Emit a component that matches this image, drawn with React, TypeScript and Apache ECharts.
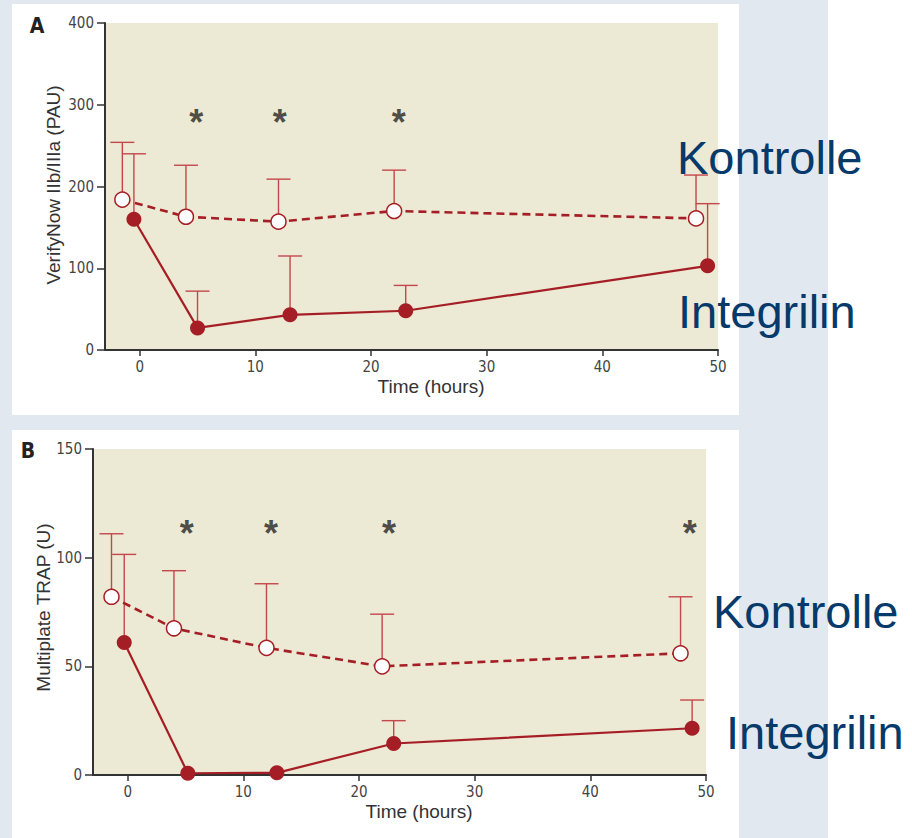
import React, { useEffect, useRef } from 'react';
import * as echarts from 'echarts';

// ---- data ----
const hoursTicks = [0, 10, 20, 30, 40, 50];
const ticksA = [0, 100, 200, 300, 400];
const ticksB = [0, 50, 100, 150];

const aKontrolleTime = [-1.5, 4, 12, 22, 48.1];
const aKontrolleMean = [184, 163, 157, 170, 161];
const aKontrolleSD = [70, 63, 52, 50, 53];
const aIntegrilinTime = [-0.5, 5, 13, 23, 49.1];
const aIntegrilinMean = [160, 27, 43, 48, 103];
const aIntegrilinSD = [80, 45, 72, 31, 76];
const aStarTime = [4.9, 12.1, 22.4];
const aStarLevel = 286;

const bKontrolleTime = [-1.4, 4, 12, 22, 47.8];
const bKontrolleMean = [82, 67.5, 58.5, 50, 56];
const bKontrolleSD = [29, 26.5, 29.5, 24, 26];
const bIntegrilinTime = [-0.3, 5.2, 12.9, 23, 48.8];
const bIntegrilinMean = [61, 0.8, 1, 14.5, 21.5];
const bIntegrilinSD = [40.5, 0, 0, 10.5, 13];
const bStarTime = [5.1, 12.4, 22.6, 48.6];
const bStarLevel = 114;

const groupNames = ['Kontrolle', 'Integrilin'];

// ---- styles ----
const RED = '#a61e25';
const ERR = '#c4474c';
const AXIS = '#333333';
const NAVY = '#063a6b';
const SANS = "'Liberation Sans', Arial, sans-serif";
const NARROW = "'Liberation Sans Narrow', 'DejaVu Sans Condensed', sans-serif";

const zip = (xs: number[], ys: number[]) => xs.map((x, i) => [x, ys[i]]);
const zip3 = (xs: number[], ys: number[], es: number[]) => xs.map((x, i) => [x, ys[i], es[i]]);

function errorSeries(idx: number, data: number[][]) {
  return {
    type: 'custom',
    xAxisIndex: idx,
    yAxisIndex: idx,
    z: 1,
    silent: true,
    data,
    encode: { x: 0, y: 1 },
    renderItem: (params: any, api: any) => {
      const x = api.value(0);
      const y = api.value(1);
      const e = api.value(2);
      if (!e) return { type: 'group', children: [] };
      const p0 = api.coord([x, y]);
      const p1 = api.coord([x, y + e]);
      const half = 12;
      const style = { stroke: ERR, lineWidth: 1.4 };
      return {
        type: 'group',
        children: [
          { type: 'line', shape: { x1: p0[0], y1: p0[1], x2: p1[0], y2: p1[1] }, style },
          { type: 'line', shape: { x1: p1[0] - half, y1: p1[1], x2: p1[0] + half, y2: p1[1] }, style },
        ],
      };
    },
  };
}

function kontrolleSeries(idx: number, data: number[][]) {
  return {
    name: groupNames[0],
    type: 'line',
    xAxisIndex: idx,
    yAxisIndex: idx,
    z: 3,
    data,
    symbol: 'circle',
    symbolSize: 15,
    itemStyle: { color: '#ffffff', borderColor: RED, borderWidth: 1.5 },
    lineStyle: { color: RED, width: 2.6, type: [8, 5] },
  };
}

function integrilinSeries(idx: number, data: number[][]) {
  return {
    name: groupNames[1],
    type: 'line',
    xAxisIndex: idx,
    yAxisIndex: idx,
    z: 3,
    data,
    symbol: 'circle',
    symbolSize: 15,
    itemStyle: { color: RED },
    lineStyle: { color: RED, width: 2.2 },
  };
}

function starSeries(idx: number, xs: number[], level: number) {
  return {
    type: 'scatter',
    xAxisIndex: idx,
    yAxisIndex: idx,
    z: 4,
    silent: true,
    data: xs.map((x) => [x, level]),
    symbolSize: 1,
    itemStyle: { color: 'rgba(0,0,0,0)' },
    label: {
      show: true,
      position: 'inside',
      formatter: '*',
      fontSize: 36,
      fontWeight: 'bold',
      fontFamily: SANS,
      color: '#222222',
      offset: [0, 6],
    },
  };
}

function xAxisOf(idx: number) {
  return {
    type: 'value',
    gridIndex: idx,
    min: -3,
    max: 50,
    name: 'Time (hours)',
    nameLocation: 'middle',
    nameGap: 27,
    nameMoveOverlap: false,
    nameTextStyle: { fontSize: 19, color: AXIS, fontFamily: SANS, padding: [0, 0, 0, 39] },
    axisLine: { show: true, onZero: false, lineStyle: { color: AXIS, width: 2 } },
    axisTick: { show: true, length: 6, lineStyle: { color: AXIS, width: 1.5 }, customValues: hoursTicks },
    axisLabel: { color: '#444444', fontSize: 15, fontFamily: NARROW, margin: 9, customValues: hoursTicks },
    splitLine: { show: false },
  };
}

function yAxisOf(idx: number, name: string, max: number, interval: number, ticks: number[], gap: number, shift: number) {
  return {
    type: 'value',
    gridIndex: idx,
    min: 0,
    max,
    interval,
    name,
    nameLocation: 'middle',
    nameRotate: 90,
    nameGap: gap,
    nameMoveOverlap: false,
    nameTextStyle: { fontSize: 19, color: AXIS, fontFamily: SANS, padding: [0, 0, 0, shift] },
    axisLine: { show: true, onZero: false, lineStyle: { color: AXIS, width: 2 } },
    axisTick: { show: true, length: 8, lineStyle: { color: AXIS, width: 1.5 }, customValues: ticks },
    axisLabel: { color: '#444444', fontSize: 15, fontFamily: NARROW, margin: 11, customValues: ticks },
    splitLine: { show: false },
  };
}

export default function App() {
  const ref = useRef<HTMLDivElement>(null);
  useEffect(() => {
    if (!ref.current) return;
    const chart = echarts.init(ref.current, null, { renderer: 'svg' });
    const plotBg = '#ece9d4';
    chart.setOption({
      animation: false,
      backgroundColor: '#e2e8f0',
      grid: [
        { left: 105, top: 23, right: 194, height: 327, show: true, backgroundColor: plotBg, borderWidth: 0, containLabel: false },
        { left: 93, top: 449, right: 206, height: 326, show: true, backgroundColor: plotBg, borderWidth: 0, containLabel: false },
      ],
      xAxis: [xAxisOf(0), xAxisOf(1)],
      yAxis: [
        yAxisOf(0, 'VerifyNow IIb/IIIa (PAU)', 400, 100, ticksA, 42, 3),
        yAxisOf(1, 'Multiplate TRAP (U)', 150, 50, ticksB, 40, 9),
      ],
      graphic: [
        { type: 'rect', z: -10, silent: true, shape: { x: 828, y: 0, width: 84, height: 838 }, style: { fill: '#ffffff' } },
        { type: 'rect', z: -10, silent: true, shape: { x: 12, y: 4, width: 727, height: 411 }, style: { fill: '#ffffff' } },
        { type: 'rect', z: -10, silent: true, shape: { x: 12, y: 430, width: 727, height: 408 }, style: { fill: '#ffffff' } },
        { type: 'text', z: 50, x: 37, y: 26, style: { text: 'A', fontSize: 21, fontWeight: 'bold', fontFamily: NARROW, fill: '#222', align: 'center', verticalAlign: 'middle' } },
        { type: 'text', z: 50, x: 28, y: 451, style: { text: 'B', fontSize: 21, fontWeight: 'bold', fontFamily: NARROW, fill: '#222', align: 'center', verticalAlign: 'middle' } },
        { type: 'text', z: 50, x: 677, y: 157, style: { text: groupNames[0], fontSize: 47, fontFamily: SANS, fill: NAVY, align: 'left', verticalAlign: 'middle' } },
        { type: 'text', z: 50, x: 678, y: 311, style: { text: groupNames[1], fontSize: 47, fontFamily: SANS, fill: NAVY, align: 'left', verticalAlign: 'middle' } },
        { type: 'text', z: 50, x: 713, y: 611, style: { text: groupNames[0], fontSize: 47, fontFamily: SANS, fill: NAVY, align: 'left', verticalAlign: 'middle' } },
        { type: 'text', z: 50, x: 726, y: 732, style: { text: groupNames[1], fontSize: 47, fontFamily: SANS, fill: NAVY, align: 'left', verticalAlign: 'middle' } },
      ],
      series: [
        errorSeries(0, zip3(aKontrolleTime, aKontrolleMean, aKontrolleSD)),
        errorSeries(0, zip3(aIntegrilinTime, aIntegrilinMean, aIntegrilinSD)),
        kontrolleSeries(0, zip(aKontrolleTime, aKontrolleMean)),
        integrilinSeries(0, zip(aIntegrilinTime, aIntegrilinMean)),
        starSeries(0, aStarTime, aStarLevel),
        errorSeries(1, zip3(bKontrolleTime, bKontrolleMean, bKontrolleSD)),
        errorSeries(1, zip3(bIntegrilinTime, bIntegrilinMean, bIntegrilinSD)),
        kontrolleSeries(1, zip(bKontrolleTime, bKontrolleMean)),
        integrilinSeries(1, zip(bIntegrilinTime, bIntegrilinMean)),
        starSeries(1, bStarTime, bStarLevel),
      ],
    });
    return () => chart.dispose();
  }, []);
  return <div ref={ref} style={{ position: 'fixed', left: 0, top: 0, width: 912, height: 838 }} />;
}
